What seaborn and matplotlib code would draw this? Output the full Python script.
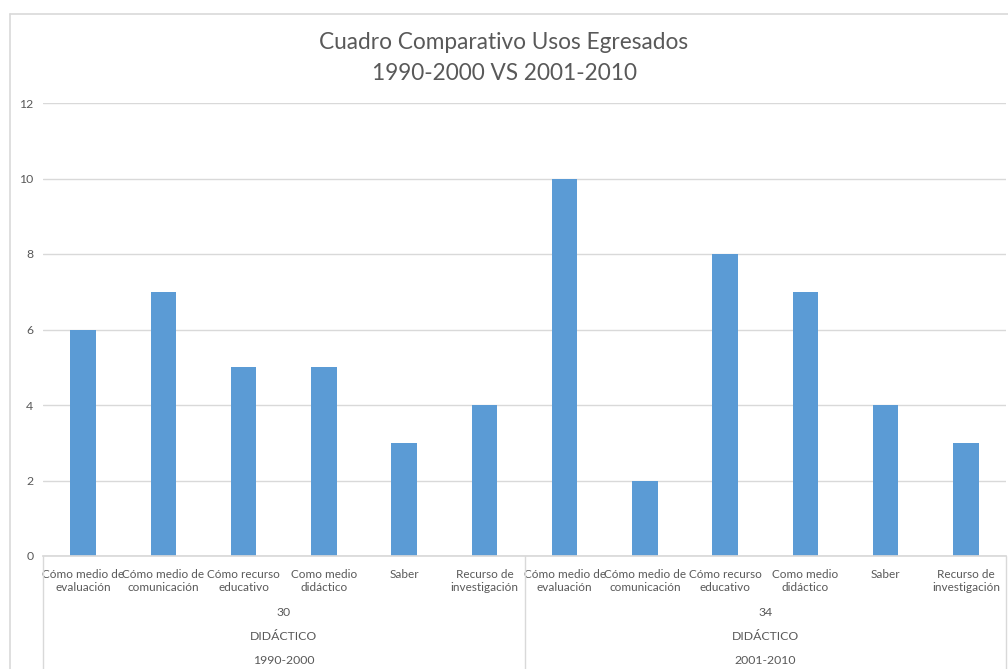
import pandas as pd
import matplotlib.pyplot as plt
import seaborn as sns
from matplotlib.lines import Line2D

# data
usos = ['Cómo medio de\nevaluación', 'Cómo medio de\ncomunicación', 'Cómo recurso\neducativo',
        'Como medio\ndidáctico', 'Saber', 'Recurso de\ninvestigación']
periodos = ['1990-2000', '2001-2010']
totales = ['30', '34']
area = 'DIDÁCTICO'
valores_1990 = [6, 7, 5, 5, 3, 4]
valores_2001 = [10, 2, 8, 7, 4, 3]

rows = []
for periodo, vals in zip(periodos, [valores_1990, valores_2001]):
    for uso, v in zip(usos, vals):
        rows.append({'clave': periodo + '|' + uso, 'uso': uso, 'periodo': periodo, 'valor': v})
df = pd.DataFrame(rows)

sns.set_theme(style='white')
plt.rcParams['font.family'] = ['Lato', 'DejaVu Sans']
gris = '#595959'

W, H = 1008, 669
fig = plt.figure(figsize=(W / 100, H / 100), dpi=100)
left, right, top, bottom = 43, 1006, 103, 556
ax = fig.add_axes([left / W, 1 - bottom / H, (right - left) / W, (bottom - top) / H])

sns.barplot(data=df, x='clave', y='valor', order=list(df['clave']), color='#5B9BD5',
            width=0.32, saturation=1, linewidth=0, ax=ax)

ax.set_ylim(0, 12)
ax.set_yticks(range(0, 13, 2))
ax.set_xlim(-0.5, len(df) - 0.5)
ax.yaxis.grid(True, color='#D9D9D9', linewidth=1)
ax.set_axisbelow(True)
for s in ['top', 'right', 'left']:
    ax.spines[s].set_visible(False)
ax.spines['bottom'].set_color('#D9D9D9')
ax.set_xlabel('')
ax.set_ylabel('')
ax.tick_params(axis='y', length=0, labelsize=8.8, labelcolor=gris, pad=7)
ax.set_xticks(range(len(df)))
ax.set_xticklabels(df['uso'], fontsize=8.5, color=gris, linespacing=1.3)
ax.tick_params(axis='x', length=0, pad=9)

# multi-level axis labels
trans = ax.get_xaxis_transform()
ph = bottom - top
def ay(py):
    return -(py - bottom) / ph

n = len(usos)
for g in range(len(periodos)):
    centro = g * n + (n - 1) / 2
    ax.text(centro, ay(612), totales[g], transform=trans, ha='center', va='center', fontsize=8.8, color=gris)
    ax.text(centro, ay(636), area, transform=trans, ha='center', va='center', fontsize=8.8, color=gris)
    ax.text(centro, ay(660), periodos[g], transform=trans, ha='center', va='center', fontsize=8.8, color=gris)
for b in [-0.5, n - 0.5, 2 * n - 0.5]:
    ax.plot([b, b], [0, ay(H)], transform=trans, color='#D9D9D9', linewidth=1, clip_on=False)

fig.suptitle('Cuadro Comparativo Usos Egresados\n1990-2000 VS 2001-2010', y=1 - 58 / H,
             va='center', fontsize=16.3, color=gris, linespacing=1.55)

# chart border
fig.add_artist(Line2D([10 / W, 10 / W], [0, 1 - 14 / H], color='#D9D9D9', linewidth=1.2))
fig.add_artist(Line2D([10 / W, 1], [1 - 14 / H, 1 - 14 / H], color='#D9D9D9', linewidth=1.2))

fig.savefig('out.png', dpi=100, facecolor='white')
